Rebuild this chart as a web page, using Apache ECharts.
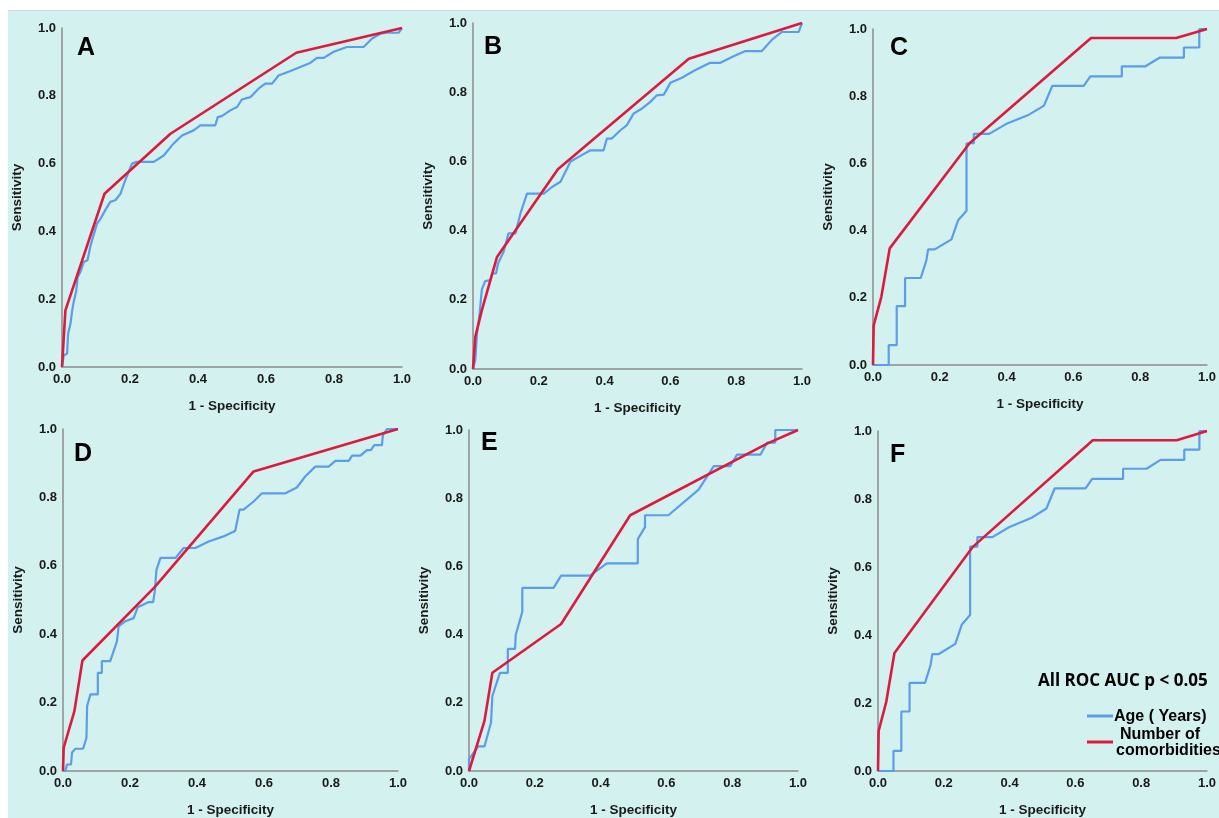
<!DOCTYPE html>
<html><head><meta charset="utf-8">
<script src="https://cdn.jsdelivr.net/npm/echarts@6/dist/echarts.min.js"></script>
<style>
html,body{margin:0;padding:0;background:#fff;width:1219px;height:818px;overflow:hidden}
#bg{position:absolute;left:8px;top:10px;right:0;bottom:0;background:#d3f1ee;border-top:1px solid #d4dada}
#chart{position:absolute;left:0;top:0;width:1219px;height:818px}
</style></head><body><div id="bg"></div><div id="chart"></div>
<script>
// ---- data ----
const panelLabels = ['A','B','C','D','E','F'];
const seriesNames = ['Age ( Years)', 'Number of comorbidities'];
const noteText = 'All ROC AUC p < 0.05';
const xAxisName = '1 - Specificity';
const yAxisName = 'Sensitivity';

const ageA = [[0,0],[0.005,0.034],[0.015,0.04],[0.018,0.098],[0.025,0.128],[0.03,0.167],[0.034,0.19],[0.042,0.226],[0.046,0.265],[0.054,0.28],[0.064,0.31],[0.075,0.315],[0.083,0.354],[0.091,0.383],[0.103,0.423],[0.113,0.437],[0.127,0.462],[0.142,0.487],[0.157,0.492],[0.172,0.511],[0.186,0.551],[0.206,0.6],[0.22,0.605],[0.27,0.605],[0.299,0.624],[0.328,0.659],[0.353,0.683],[0.387,0.698],[0.407,0.713],[0.451,0.713],[0.458,0.737],[0.47,0.74],[0.495,0.757],[0.515,0.767],[0.529,0.789],[0.554,0.796],[0.578,0.821],[0.598,0.836],[0.618,0.836],[0.637,0.86],[0.672,0.873],[0.701,0.885],[0.73,0.897],[0.75,0.912],[0.77,0.912],[0.799,0.93],[0.838,0.944],[0.887,0.944],[0.912,0.969],[0.936,0.983],[0.956,0.986],[0.99,0.986],[1,1]];
const comA = [[0,0],[0.01,0.167],[0.125,0.511],[0.319,0.688],[0.689,0.927],[1,1]];

const ageB = [[0,0],[0.007,0.026],[0.012,0.103],[0.019,0.151],[0.027,0.23],[0.032,0.233],[0.037,0.254],[0.053,0.257],[0.058,0.276],[0.07,0.276],[0.076,0.305],[0.093,0.339],[0.108,0.392],[0.129,0.392],[0.144,0.449],[0.164,0.507],[0.215,0.507],[0.24,0.526],[0.266,0.541],[0.296,0.599],[0.321,0.613],[0.357,0.632],[0.397,0.632],[0.407,0.666],[0.422,0.666],[0.448,0.69],[0.468,0.705],[0.488,0.738],[0.514,0.753],[0.539,0.772],[0.559,0.791],[0.58,0.793],[0.6,0.827],[0.635,0.842],[0.676,0.864],[0.721,0.885],[0.752,0.885],[0.792,0.904],[0.828,0.919],[0.878,0.919],[0.909,0.952],[0.939,0.974],[0.99,0.974],[1,1]];
const comB = [[0,0],[0.007,0.093],[0.027,0.17],[0.073,0.324],[0.258,0.577],[0.656,0.897],[1,1]];

const ageC = [[0,0],[0.047,0],[0.047,0.059],[0.071,0.059],[0.071,0.175],[0.096,0.175],[0.096,0.259],[0.143,0.259],[0.16,0.312],[0.165,0.344],[0.185,0.344],[0.235,0.374],[0.255,0.431],[0.28,0.459],[0.28,0.66],[0.302,0.66],[0.302,0.688],[0.348,0.688],[0.398,0.717],[0.467,0.745],[0.512,0.772],[0.537,0.831],[0.631,0.831],[0.651,0.859],[0.745,0.859],[0.745,0.889],[0.816,0.889],[0.859,0.915],[0.931,0.915],[0.931,0.945],[0.977,0.945],[0.977,1],[1,1]];
const comC = [[0,0],[0.002,0.118],[0.025,0.203],[0.05,0.347],[0.289,0.66],[0.653,0.973],[0.908,0.973],[1,1]];

const ageD = [[0,0],[0.007,0],[0.012,0.019],[0.024,0.019],[0.027,0.054],[0.037,0.065],[0.06,0.065],[0.07,0.097],[0.072,0.19],[0.082,0.224],[0.104,0.224],[0.104,0.287],[0.116,0.287],[0.116,0.321],[0.141,0.321],[0.161,0.379],[0.166,0.423],[0.186,0.438],[0.211,0.447],[0.223,0.479],[0.256,0.494],[0.269,0.494],[0.274,0.525],[0.279,0.588],[0.291,0.623],[0.336,0.623],[0.36,0.652],[0.395,0.652],[0.435,0.671],[0.479,0.686],[0.514,0.702],[0.527,0.764],[0.539,0.764],[0.569,0.788],[0.594,0.812],[0.664,0.812],[0.698,0.829],[0.723,0.861],[0.753,0.89],[0.793,0.89],[0.813,0.907],[0.853,0.907],[0.863,0.922],[0.888,0.922],[0.907,0.938],[0.919,0.938],[0.929,0.953],[0.952,0.953],[0.955,0.982],[0.967,1],[1,1]];
const comD = [[0,0],[0.002,0.068],[0.034,0.175],[0.058,0.323],[0.273,0.537],[0.569,0.876],[1,1]];

const ageE = [[0,0],[0,0.035],[0.028,0.072],[0.047,0.072],[0.067,0.142],[0.071,0.22],[0.094,0.288],[0.118,0.288],[0.118,0.358],[0.14,0.358],[0.142,0.399],[0.162,0.467],[0.162,0.537],[0.257,0.537],[0.28,0.573],[0.368,0.573],[0.419,0.609],[0.513,0.609],[0.513,0.68],[0.535,0.715],[0.535,0.75],[0.606,0.75],[0.698,0.825],[0.744,0.894],[0.794,0.894],[0.815,0.928],[0.886,0.928],[0.906,0.963],[0.931,0.963],[0.931,1],[1,1]];
const comE = [[0,0],[0.047,0.147],[0.071,0.288],[0.28,0.431],[0.49,0.75],[0.906,0.96],[1,1]];

// Panel F shows the same curves as panel C in the source figure
const ageF = [[0,0],[0.047,0],[0.047,0.059],[0.071,0.059],[0.071,0.175],[0.096,0.175],[0.096,0.259],[0.143,0.259],[0.16,0.312],[0.165,0.344],[0.185,0.344],[0.235,0.374],[0.255,0.431],[0.28,0.459],[0.28,0.66],[0.302,0.66],[0.302,0.688],[0.348,0.688],[0.398,0.717],[0.467,0.745],[0.512,0.772],[0.537,0.831],[0.631,0.831],[0.651,0.859],[0.745,0.859],[0.745,0.889],[0.816,0.889],[0.859,0.915],[0.931,0.915],[0.931,0.945],[0.977,0.945],[0.977,1],[1,1]];
const comF = [[0,0],[0.002,0.118],[0.025,0.203],[0.05,0.347],[0.289,0.66],[0.653,0.973],[0.908,0.973],[1,1]];

const ageData = [ageA, ageB, ageC, ageD, ageE, ageF];
const comData = [comA, comB, comC, comD, comE, comF];

// ---- layout / style ----
const BLUE = '#5b9de8';
const RED = '#dc1a3e';
const TXT = '#1a1a1a';
const FONT = '"Liberation Sans", Arial, sans-serif';
const grids = [
  {left: 62,  top: 28,  width: 340, height: 339},
  {left: 473, top: 23,  width: 329, height: 346},
  {left: 873, top: 29,  width: 336, height: 336},
  {left: 63,  top: 429, width: 335, height: 343},
  {left: 469, top: 430, width: 329, height: 344},
  {left: 878, top: 431, width: 334, height: 341}
];
const letterPos = [[77,48],[484,47],[890,48],[74,454],[481,443],[890,455]];

const chart = echarts.init(document.getElementById('chart'), null, {renderer: 'canvas'});
const xAxes = [], yAxes = [], series = [], graphic = [];
grids.forEach((g, i) => {
  const axisCommon = {
    type: 'value', min: 0, max: 1, interval: 0.2, gridIndex: i,
    axisLine: {show: true, lineStyle: {color: '#8c8c8c', width: 1.5}},
    axisTick: {show: false}, splitLine: {show: false},
    axisLabel: {color: TXT, fontSize: 13, fontWeight: 'bold', fontFamily: FONT, margin: 6,
      formatter: v => v.toFixed(1)},
    nameLocation: 'middle',
    nameTextStyle: {color: TXT, fontSize: 13.5, fontWeight: 'bold', fontFamily: FONT}
  };
  xAxes.push(Object.assign({}, axisCommon, {name: xAxisName, nameGap: 32}));
  yAxes.push(Object.assign({}, axisCommon, {name: yAxisName, nameGap: 38}));
  series.push({type: 'line', name: seriesNames[0], xAxisIndex: i, yAxisIndex: i, data: ageData[i],
    showSymbol: false, clip: false, lineStyle: {color: BLUE, width: 2.2}, itemStyle: {color: BLUE}});
  series.push({type: 'line', name: seriesNames[1], xAxisIndex: i, yAxisIndex: i, data: comData[i],
    showSymbol: false, clip: false, lineStyle: {color: RED, width: 2.6}, itemStyle: {color: RED}});
  graphic.push({type: 'text', x: letterPos[i][0], y: letterPos[i][1],
    style: {text: panelLabels[i], fill: '#000', font: 'bold 25px ' + FONT, textVerticalAlign: 'middle'}});
});

// legend / note in panel F
graphic.push({type: 'text', x: 1038, y: 681,
  style: {text: noteText, fill: '#000', font: 'bold 17px "Open Sans", sans-serif', textVerticalAlign: 'middle'}});
graphic.push({type: 'line', shape: {x1: 1087, y1: 716, x2: 1113, y2: 716}, style: {stroke: BLUE, lineWidth: 3}});
graphic.push({type: 'text', x: 1114, y: 717,
  style: {text: seriesNames[0], fill: '#000', font: 'bold 16px ' + FONT, textVerticalAlign: 'middle'}});
graphic.push({type: 'line', shape: {x1: 1087, y1: 742, x2: 1113, y2: 742}, style: {stroke: RED, lineWidth: 3}});
graphic.push({type: 'text', x: 1160, y: 735,
  style: {text: 'Number of', fill: '#000', font: 'bold 16px ' + FONT, textAlign: 'center', textVerticalAlign: 'middle'}});
graphic.push({type: 'text', x: 1116, y: 751,
  style: {text: 'comorbidities', fill: '#000', font: 'bold 16px ' + FONT, textVerticalAlign: 'middle'}});

chart.setOption({
  backgroundColor: 'transparent',
  animation: false,
  grid: grids,
  xAxis: xAxes,
  yAxis: yAxes,
  series: series,
  graphic: graphic
});
</script></body></html>
